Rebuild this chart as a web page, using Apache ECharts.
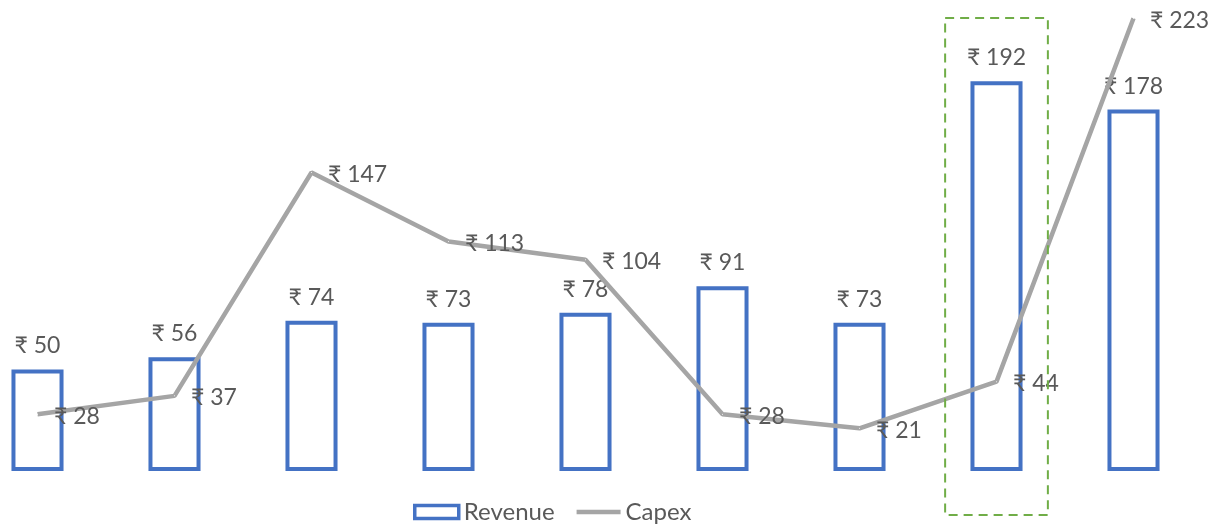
<!DOCTYPE html>
<html><head><meta charset="utf-8">
<script src="https://cdn.jsdelivr.net/npm/echarts@6/dist/echarts.min.js"></script>
<style>html,body{margin:0;padding:0;background:#fff;overflow:hidden}#c{width:1242px;height:525px;margin-left:-31px}</style>
</head><body><div id="c"></div>
<script>
const categories = ['P1','P2','P3','P4','P5','P6','P7','P8','P9'];
const revenue = [50, 56, 74, 73, 78, 91, 73, 192, 178];
const capex = [28, 37, 147, 113, 104, 28, 21, 44, 223];
const highlightIndex = 7;

const FONT = "Lato, 'Noto Sans', 'DejaVu Sans', sans-serif";
const chart = echarts.init(document.getElementById('c'), null, {renderer:'canvas'});
const fmt = p => '₹ ' + p.value;
chart.setOption({
  animation: false,
  grid: {left: 0, right: 9, top: 4, bottom: 54, containLabel: false},
  xAxis: {type: 'category', data: categories, axisLine:{show:false}, axisTick:{show:false}, axisLabel:{show:false}, splitLine:{show:false}},
  yAxis: {type: 'value', min: 0, max: 230, show: false, splitLine:{show:false}},
  legend: {
    top: 495, left: 439, itemWidth: 44, itemHeight: 13, itemGap: 22, symbolKeepAspect: true,
    textStyle: {color: '#595959', fontSize: 24, fontFamily: FONT},
    data: [
      {name:'Revenue', icon: 'rect', itemStyle: {color: '#ffffff', borderColor: '#4472C4', borderWidth: 3.5}},
      {name:'Capex', icon: 'path://M0,0H44V4.5H0Z'}
    ]
  },
  series: [
    {
      name: 'Revenue', type: 'bar', data: revenue, barWidth: '38%',
      itemStyle: {color: '#ffffff', borderColor: '#4472C4', borderWidth: 4},
      label: {show: true, position: 'top', distance: 12, formatter: fmt, color: '#595959', fontSize: 23, fontFamily: FONT}
    },
    {
      name: 'Capex', type: 'line', data: capex, symbol: 'none', z: 3,
      lineStyle: {color: '#A5A5A5', width: 4.5},
      itemStyle: {color: '#A5A5A5'}
    },
    {
      name: 'CapexLabels', type: 'scatter', data: capex, symbolSize: 1, z: 4,
      silent: true, itemStyle: {color: '#ffffff', opacity: 1},
      label: {show: true, position: 'right', distance: 16, formatter: fmt, color: '#595959', opacity: 1, fontSize: 23, fontFamily: FONT, offset:[0,2]}
    }
  ]
});
const c = chart.convertToPixel({xAxisIndex:0}, categories[highlightIndex]);
const c2 = chart.convertToPixel({xAxisIndex:0}, categories[highlightIndex+1]);
const band = c2 - c;
const hw = band * 0.375;
chart.setOption({graphic: [{
  type: 'rect', shape: {x: c - hw, y: 18, width: hw*2, height: 497},
  style: {fill: 'none', stroke: '#70AD47', lineWidth: 2, lineDash: [9, 6]}, z: 10
}]});
</script></body></html>
